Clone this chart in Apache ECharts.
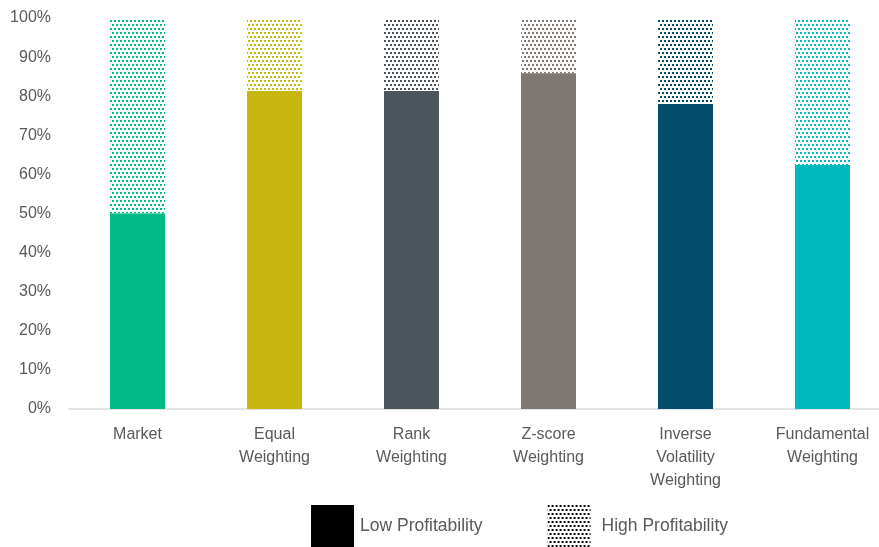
<!DOCTYPE html>
<html>
<head>
<meta charset="utf-8">
<script src="https://cdn.jsdelivr.net/npm/echarts@6/dist/echarts.min.js"></script>
<style>
  html, body { margin: 0; padding: 0; background: #fff; }
  #chart { width: 879px; height: 547px; }
</style>
</head>
<body>
<div id="chart"></div>
<script>
const categories = ['Market', 'Equal\nWeighting', 'Rank\nWeighting', 'Z-score\nWeighting', 'Inverse\nVolatility\nWeighting', 'Fundamental\nWeighting'];
const lowProfitability = [50, 81.3, 81.3, 85.9, 78.0, 62.4];
const highProfitability = [50, 18.7, 18.7, 14.1, 22.0, 37.6];
const barColors = ['#00BB87', '#C8B70E', '#4A555C', '#7F7772', '#024D6C', '#00B9BF'];
const yTicks = { min: 0, max: 100, step: 10 };

// Small tile of staggered square dots used as a repeating fill
function dotTile(color) {
  const c = document.createElement('canvas');
  c.width = 4; c.height = 8;
  const ctx = c.getContext('2d');
  ctx.fillStyle = color;
  ctx.fillRect(0, 0, 2, 2);
  ctx.fillRect(2, 4, 2, 2);
  return { image: c, repeat: 'repeat' };
}

const chart = echarts.init(document.getElementById('chart'), null, { renderer: 'canvas' });
const textColor = '#595959';
const font = 'Liberation Sans, Arial, sans-serif';

chart.setOption({
  animation: false,
  textStyle: { fontFamily: font },
  grid: { left: 69, top: 18, width: 822, height: 391, containLabel: false, outerBoundsMode: 'none' },
  legend: {
    left: 311, top: 505, padding: 0,
    icon: 'rect',
    itemWidth: 43, itemHeight: 42, itemGap: 65,
    textStyle: { fontSize: 17.5, color: textColor, fontFamily: font },
    data: [
      { name: 'Low Profitability', textStyle: { padding: [0, 0, 0, 1] } },
      { name: 'High Profitability', textStyle: { padding: [0, 0, 0, 6] } }
    ]
  },
  xAxis: {
    type: 'category',
    data: categories,
    axisLine: { lineStyle: { color: '#d9d9d9', width: 1.5 } },
    axisTick: { show: false },
    axisLabel: { color: textColor, fontSize: 16, lineHeight: 23, margin: 14, interval: 0, fontFamily: font }
  },
  yAxis: {
    type: 'value',
    min: yTicks.min, max: yTicks.max, interval: yTicks.step,
    splitLine: { show: false },
    axisLine: { show: false },
    axisTick: { show: false },
    axisLabel: { color: textColor, fontSize: 16, margin: 18, formatter: '{value}%', fontFamily: font }
  },
  series: [
    {
      name: 'Low Profitability',
      type: 'bar',
      stack: 'total',
      barWidth: 55,
      itemStyle: { color: '#000' },
      data: lowProfitability.map((v, i) => ({ value: v, itemStyle: { color: barColors[i] } }))
    },
    {
      name: 'High Profitability',
      type: 'bar',
      stack: 'total',
      barWidth: 55,
      itemStyle: { color: dotTile('#000') },
      data: highProfitability.map((v, i) => ({ value: v, itemStyle: { color: dotTile(barColors[i]) } }))
    }
  ]
});
</script>
</body>
</html>
